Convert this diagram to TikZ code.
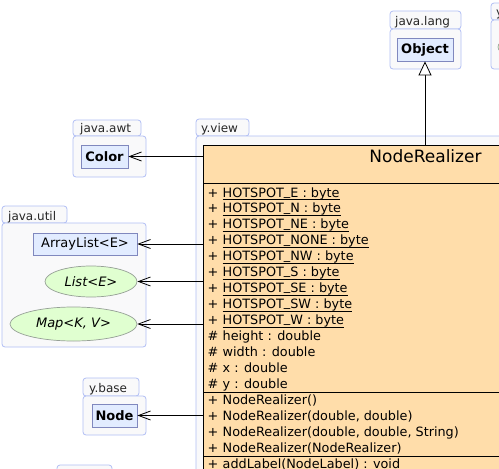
\documentclass[tikz,border=0pt]{standalone}
\usepackage{fontspec}
\setmainfont{DejaVu Sans}
\usetikzlibrary{arrows.meta,shapes.geometric}

\definecolor{pkgline}{RGB}{176,190,244}
\definecolor{pkgfill}{RGB}{249,249,250}
\definecolor{clsline}{RGB}{128,136,190}
\definecolor{clsfill}{RGB}{226,236,255}
\definecolor{ifline}{RGB}{150,160,150}
\definecolor{iffill}{RGB}{224,255,208}
\definecolor{nrfill}{RGB}{255,221,170}

% raised underscore, so that it stays clear of the underline
\newcommand{\hotbar}{\raisebox{1.8pt}{\_}}

\begin{document}
\begin{tikzpicture}[x=1pt,y=-1pt,
    pkg/.style={draw=pkgline, fill=pkgfill, rounded corners=3pt, line width=0.8pt},
    pkglabel/.style={anchor=base west, inner sep=0pt, text=black!85, font=\fontsize{12}{14}\selectfont},
    cls/.style={draw=clsline, fill=clsfill, line width=0.8pt, inner sep=0pt, font=\fontsize{13}{15}\selectfont},
    clsbold/.style={cls, font=\fontsize{13}{15}\selectfont\bfseries},
    iface/.style={ellipse, draw=ifline, fill=iffill, line width=0.7pt, inner sep=0pt, font=\fontsize{13}{15}\selectfont\itshape},
    member/.style={anchor=base west, inner sep=0pt, font=\fontsize{12.8}{15}\selectfont},
    uline/.style={line width=0.6pt},
    dep/.style={-{Straight Barb[length=12pt,width=9pt]}, line width=0.8pt},
    inherit/.style={-{Triangle[length=14pt,width=13pt,fill=white]}, line width=0.8pt}
  ]
\useasboundingbox (0,0) rectangle (499,469);
\clip (0,0) rectangle (499,469);

% packages
\draw[pkg] (390,11) rectangle (461,29);
\draw[pkg] (390,29) rectangle (461,69);
\node[pkglabel] (lang) at (395,25) {java.lang};

\draw[pkg] (491,3) rectangle (540,20);
\draw[pkg] (491,20) rectangle (540,69);
\node[pkglabel] (other) at (496,16) {y};

\draw[pkg] (73,120) rectangle (141,136);
\draw[pkg] (73,136) rectangle (146,177);
\node[pkglabel] (awt) at (80,132) {java.awt};

\draw[pkg] (196,119) rectangle (249,136);
\draw[pkg] (196,136) rectangle (560,520);
\node[pkglabel] (view) at (201,132) {y.view};

\draw[pkg] (2,206) rectangle (67,223);
\draw[pkg] (2,223) rectangle (146,347);
\node[pkglabel] (util) at (8,220) {java.util};

\draw[pkg] (83,378) rectangle (139,396);
\draw[pkg] (83,396) rectangle (146,435);
\node[pkglabel] (base) at (89,392) {y.base};

\draw[pkg] (57,465) rectangle (112,490);

% classes
\node[clsbold, minimum width=56pt, minimum height=23pt] (Object) at (425,49.5) {Object};
\node[iface, minimum width=60pt, minimum height=24pt] (Far) at (528,47) {};
\node[clsbold, minimum width=47pt, minimum height=23pt] (Color) at (104.5,156.5) {Color};
\node[cls, minimum width=104pt, minimum height=22pt] (ArrayList) at (85,244) {ArrayList<E>};
\node[iface, minimum width=92pt, minimum height=31pt] (List) at (91,281.5) {List<E>};
\node[iface, minimum width=127pt, minimum height=34pt] (Map) at (73.5,324) {Map<K, V>};
\node[clsbold, minimum width=45pt, minimum height=23pt] (Node) at (114.5,415.5) {Node};

% NodeRealizer
\node[draw, fill=nrfill, line width=0.8pt, anchor=north west, minimum width=445pt, minimum height=400pt] (NR) at (203,145) {};
\node[anchor=base, inner sep=0pt, font=\fontsize{17}{20}\selectfont] (title) at (425.5,162) {NodeRealizer};
\draw[line width=0.8pt] (203,183) -- (648,183);
\draw[line width=0.8pt] (203,392.5) -- (648,392.5);
\draw[line width=0.8pt] (203,456) -- (648,456);

% static fields
\foreach \i/\t in {0/E,1/N,2/NE,3/NONE,4/NW,5/S,6/SE,7/SW,8/W}{
  \node[member] (plus\i) at (207.5,197+15.95*\i) {+};
  \node[member] (attr\i) at (222.5,197+15.95*\i) {HOTSPOT\hotbar\t\ : byte};
  \draw[uline] ([yshift=-2.4pt]attr\i.base west) -- ([yshift=-2.4pt]attr\i.base east);
}
\foreach \i/\t in {9/height,10/width,11/x,12/y}{
  \node[member] (hash\i) at (207.5,197+15.95*\i) {\#};
  \node[member] (attr\i) at (222.5,197+15.95*\i) {\t\ : double};
}
\foreach \i/\t in {13/NodeRealizer(),14/{NodeRealizer(double, double)},15/{NodeRealizer(double, double, String)},16/NodeRealizer(NodeRealizer),17/{addLabel(NodeLabel) : void}}{
  \node[member] (plus\i) at (207.5,197+15.95*\i) {+};
  \node[member] (op\i) at (222.5,197+15.95*\i) {\t};
}

% connectors
\draw[inherit] (Object.south |- NR.north) -- (Object.south);
\draw[dep] (NR.west |- Color) -- (Color);
\draw[dep] (NR.west |- ArrayList) -- (ArrayList);
\draw[dep] (NR.west |- List) -- (List);
\draw[dep] (NR.west |- Map) -- (Map);
\draw[dep] (NR.west |- Node) -- (Node);
\end{tikzpicture}
\end{document}
